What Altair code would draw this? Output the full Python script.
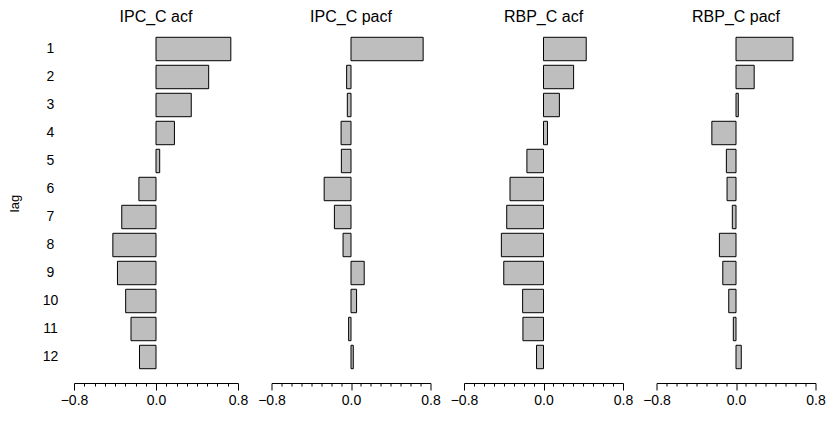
import altair as alt
import pandas as pd

lags = list(range(1, 13))
ipc_acf = [0.73, 0.514, 0.344, 0.18, 0.036, -0.167, -0.334, -0.421, -0.376, -0.296, -0.244, -0.161]
ipc_pacf = [0.726, -0.044, -0.037, -0.10, -0.097, -0.27, -0.167, -0.08, 0.133, 0.056, -0.024, 0.023]
rbp_acf = [0.43, 0.303, 0.16, 0.04, -0.167, -0.337, -0.37, -0.424, -0.40, -0.21, -0.207, -0.07]
rbp_pacf = [0.573, 0.183, 0.023, -0.243, -0.097, -0.09, -0.037, -0.167, -0.133, -0.073, -0.027, 0.053]
titles = ["IPC_C acf", "IPC_C pacf", "RBP_C acf", "RBP_C pacf"]
tick_values = [-0.8, -0.7, -0.6, -0.5, -0.4, -0.3, -0.2, -0.1, 0.0, 0.1, 0.2, 0.3, 0.4, 0.5, 0.6, 0.7, 0.8]

series = [ipc_acf, ipc_pacf, rbp_acf, rbp_pacf]
major = "abs(datum.value) < 0.01 || abs(datum.value) > 0.79"


def panel(values, title, width, first):
    df = pd.DataFrame({"lag": lags, "value": values})
    if first:
        yaxis = alt.Axis(title="lag", domain=False, ticks=False, tickSize=0,
                         labelPadding=24, labelAlign="center", labelFontSize=14,
                         labelColor="black", titleFontSize=13, titleFontWeight="normal",
                         titleColor="black", titlePadding=21)
    else:
        yaxis = None
    xaxis = alt.Axis(title=None, values=tick_values, grid=False, offset=12,
                     domainColor="black", tickColor="black", labelColor="black",
                     labelFontSize=14, labelFlush=False, labelOverlap=False,
                     labelPadding=3,
                     tickSize={"condition": {"test": major, "value": 7}, "value": 3},
                     labelExpr=f"({major}) ? format(datum.value, '.1f') : ''")
    return alt.Chart(df).mark_bar(fill="#BEBEBE", stroke="black", strokeWidth=1).encode(
        x=alt.X("value:Q", scale=alt.Scale(domain=[-0.8, 0.8], nice=False, zero=True), axis=xaxis),
        y=alt.Y("lag:O", scale=alt.Scale(paddingInner=0.164, paddingOuter=0.082), axis=yaxis),
    ).properties(
        width=width, height=336,
        title=alt.TitleParams(title, fontSize=16, fontWeight="normal", color="black",
                              anchor="middle", baseline="alphabetic", offset=-3),
    )


panels = [panel(series[i], titles[i], 164 if i == 0 else 159, i == 0) for i in range(4)]

chart = alt.hconcat(*panels, spacing=33.5, bounds="flush").properties(
    padding={"left": 0, "top": 1, "right": 0, "bottom": 0}
).configure(font="Liberation Sans").configure_view(stroke=None)

chart.save("out.html", embed_options={"renderer": "svg", "actions": False})
